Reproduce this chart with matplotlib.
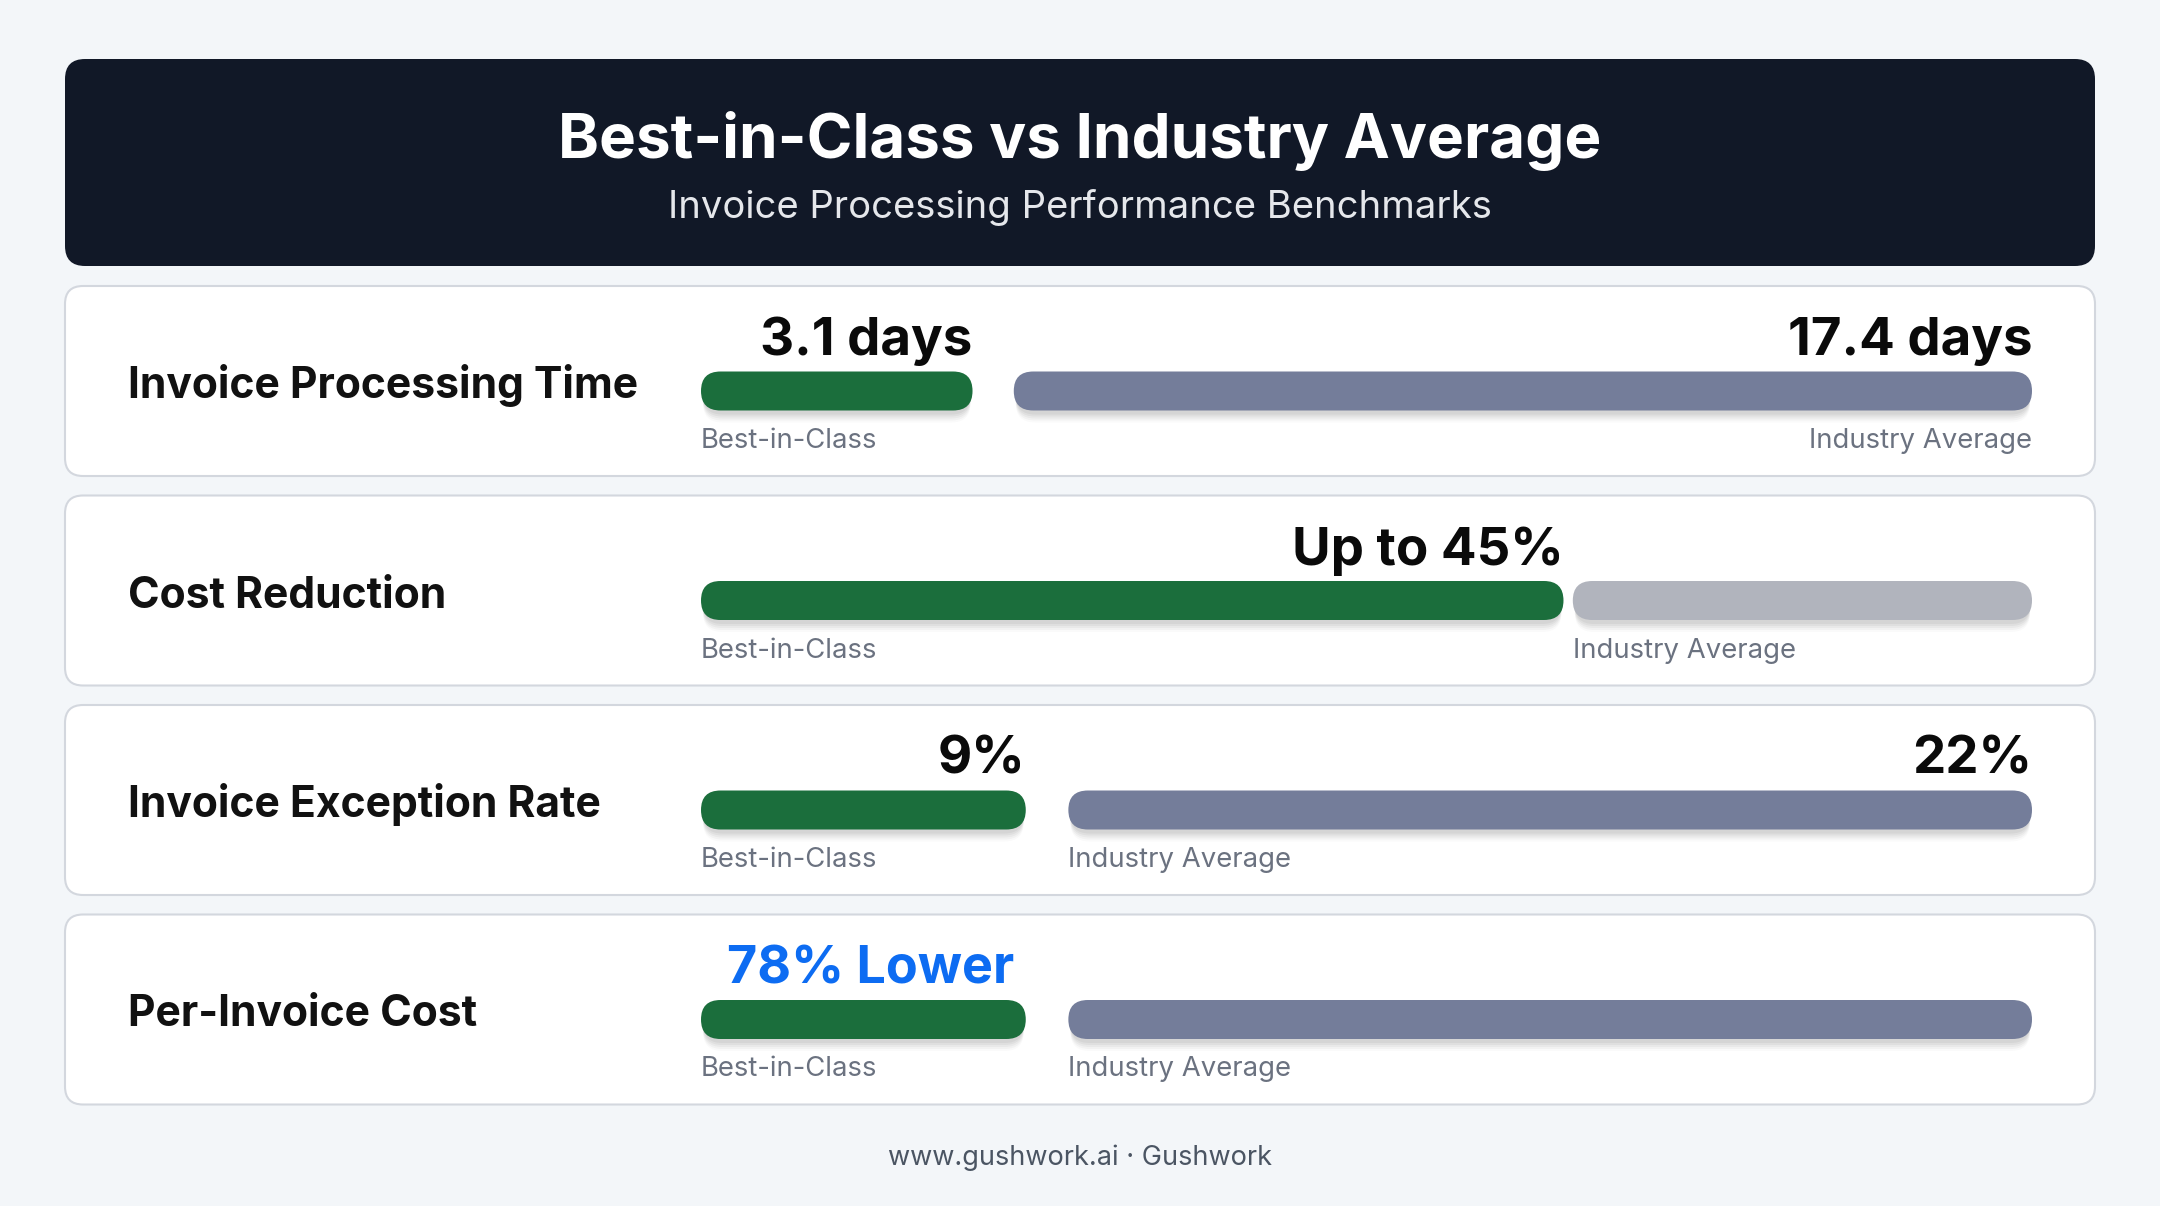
import matplotlib.pyplot as plt
from matplotlib.patches import FancyBboxPatch

# data
metrics = ['Invoice Processing Time', 'Cost Reduction', 'Invoice Exception Rate', 'Per-Invoice Cost']
best_text = ['3.1 days', 'Up to 45%', '9%', '78% Lower']
avg_text = ['17.4 days', '', '22%', '']
best_share = [20.4, 64.8, 24.4, 24.4]   # % of bar track
avg_start = [23.5, 65.5, 27.6, 27.6]    # % of bar track
avg_light = [False, True, False, False]
avg_label_right = [True, False, False, False]
highlight = [False, False, False, True]

title = 'Best-in-Class vs Industry Average'
subtitle = 'Invoice Processing Performance Benchmarks'
footer = 'www.gushwork.ai · Gushwork'

plt.rcParams['font.family'] = ['Inter', 'DejaVu Sans']

W, H = 2160, 1206
fig = plt.figure(figsize=(W / 100, H / 100), dpi=100)
fig.patch.set_facecolor('#f3f6f9')
ax = fig.add_axes([0, 0, 1, 1])
ax.set_xlim(0, W)
ax.set_ylim(H, 0)
ax.axis('off')

# header
ax.add_patch(FancyBboxPatch((65, 59), 2030, 207, boxstyle='round,pad=0,rounding_size=20',
                            fc='#111827', ec='none'))
ax.text(W / 2, 158, title, ha='center', va='baseline', fontsize=44.6, weight='bold', color='white')
ax.text(W / 2, 218, subtitle, ha='center', va='baseline', fontsize=27.5, color='#e5e7eb')

track_l, track_r = 701, 2032
tw = track_r - track_l
bar_h = 39


def bar(x0, x1, yc, color):
    # soft drop shadow
    for k, a in [(12, 0.02), (10, 0.03), (8, 0.035), (6, 0.04), (4, 0.045)]:
        ax.add_patch(FancyBboxPatch((x0 + 2, yc - bar_h / 2 + k), x1 - x0 - 4, bar_h,
                                    boxstyle='round,pad=0,rounding_size=19',
                                    fc='black', ec='none', alpha=a))
    ax.add_patch(FancyBboxPatch((x0, yc - bar_h / 2), x1 - x0, bar_h,
                                boxstyle='round,pad=0,rounding_size=19.5',
                                fc=color, ec='none'))


for i, m in enumerate(metrics):
    top = 286 + i * 209.5
    ax.add_patch(FancyBboxPatch((65, top), 2030, 190, boxstyle='round,pad=0,rounding_size=18',
                                fc='white', ec='#d3d7de', lw=1.5))
    ax.text(128, top + 112, m, ha='left', va='baseline', fontsize=30.7, weight='bold', color='#111111')

    yc = top + 105
    g_end = track_l + best_share[i] / 100 * tw
    a_start = track_l + avg_start[i] / 100 * tw
    bar(track_l, g_end, yc, '#1b6e3c')
    bar(a_start, track_r, yc, '#b1b4bd' if avg_light[i] else '#747d9a')

    if highlight[i]:
        ax.text((track_l + g_end) / 2 + 7, top + 69, best_text[i], ha='center', va='baseline',
                fontsize=37.5, weight='bold', color='#0d6cf2')
    else:
        ax.text(g_end, top + 69, best_text[i], ha='right', va='baseline',
                fontsize=38, weight='bold', color='#0a0a0a')
    if avg_text[i]:
        ax.text(track_r, top + 69, avg_text[i], ha='right', va='baseline',
                fontsize=38, weight='bold', color='#0a0a0a')

    ax.text(track_l, top + 162, 'Best-in-Class', ha='left', va='baseline', fontsize=19.8, color='#6b7280')
    if avg_label_right[i]:
        ax.text(track_r, top + 162, 'Industry Average', ha='right', va='baseline', fontsize=19.8, color='#6b7280')
    else:
        ax.text(a_start, top + 162, 'Industry Average', ha='left', va='baseline', fontsize=19.8, color='#6b7280')

ax.text(W / 2, 1165, footer, ha='center', va='baseline', fontsize=19.5, color='#4b5563')

fig.savefig('out.png', dpi=100, facecolor=fig.get_facecolor())
